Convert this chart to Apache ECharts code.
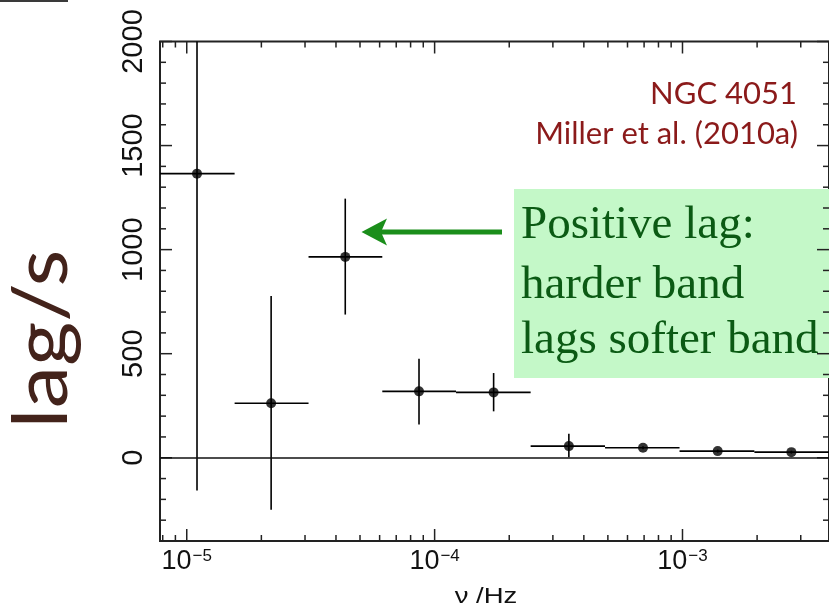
<!DOCTYPE html>
<html>
<head>
<meta charset="utf-8">
<script src="https://cdn.jsdelivr.net/npm/echarts@6/dist/echarts.min.js"></script>
<style>
  html, body { margin: 0; padding: 0; background: #ffffff; }
  #chart { width: 829px; height: 610px; }
</style>
</head>
<body>
<div id="chart"></div>
<script>
// Frequency-resolved time lag of NGC 4051 (hard band relative to soft band)

// Bin centre frequencies (Hz) and the lag measured in each bin (s)
const freq    = [1.10e-5, 2.19e-5, 4.36e-5, 8.65e-5, 1.73e-4, 3.48e-4, 6.93e-4, 1.387e-3, 2.75e-3];
const lag     = [1365, 262, 965, 319, 314, 56, 48, 32, 27];
// Lower / upper ends of the lag error bars (s)
const lagLow  = [-157, -250, 688, 160, 223, 3, 41, 25, 20];
const lagHigh = [2890, 777, 1245, 476, 407, 115, 55, 39, 34];
// Frequency bin edges (Hz)
const binLow  = [7.8e-6, 1.56e-5, 3.1e-5, 6.15e-5, 1.22e-4, 2.44e-4, 4.87e-4, 9.73e-4, 1.95e-3];
const binHigh = [1.56e-5, 3.1e-5, 6.15e-5, 1.22e-4, 2.44e-4, 4.87e-4, 9.73e-4, 1.95e-3, 3.9e-3];

// Axis ranges
const X_MIN = 7.8e-6, X_MAX = 3.9e-3;
const Y_MIN = -400, Y_MAX = 2000;

// Tick positions on the frame
const xMajorTicks = [1e-5, 1e-4, 1e-3];
const xMinorTicks = [8e-6, 9e-6,
  2e-5, 3e-5, 4e-5, 5e-5, 6e-5, 7e-5, 8e-5, 9e-5,
  2e-4, 3e-4, 4e-4, 5e-4, 6e-4, 7e-4, 8e-4, 9e-4,
  2e-3, 3e-3];
const yMajorTicks = [0, 500, 1000, 1500, 2000];
const yMinorTicks = [-300, -200, -100, 100, 200, 300, 400, 600, 700, 800, 900,
  1100, 1200, 1300, 1400, 1600, 1700, 1800, 1900];

const FRAME = '#222222';
const LABEL_FONT = 'Liberation Sans';

const chart = echarts.init(document.getElementById('chart'), null, { renderer: 'canvas' });

// Tick marks drawn inward on all four sides of the frame
const tickData = [];
xMajorTicks.forEach(v => tickData.push([v, Y_MIN, 0, 1]));
xMinorTicks.forEach(v => tickData.push([v, Y_MIN, 0, 0]));
yMajorTicks.forEach(v => tickData.push([X_MIN, v, 1, 1]));
yMinorTicks.forEach(v => tickData.push([X_MIN, v, 1, 0]));

function renderTick(params, api) {
  const cs = params.coordSys;
  const len = api.value(3) ? 12 : 6;
  const style = { stroke: FRAME, lineWidth: 1.5 };
  const top = cs.y, bottom = cs.y + cs.height, left = cs.x, right = cs.x + cs.width;
  if (api.value(2) === 0) {
    const x = api.coord([api.value(0), Y_MIN])[0];
    return { type: 'group', children: [
      { type: 'line', shape: { x1: x, y1: bottom, x2: x, y2: bottom - len }, style },
      { type: 'line', shape: { x1: x, y1: top, x2: x, y2: top + len }, style }
    ] };
  }
  const y = api.coord([X_MIN, api.value(1)])[1];
  return { type: 'group', children: [
    { type: 'line', shape: { x1: left, y1: y, x2: left + len, y2: y }, style },
    { type: 'line', shape: { x1: right, y1: y, x2: right - len, y2: y }, style }
  ] };
}

// Horizontal (bin width) and vertical (lag uncertainty) error bars
const errData = freq.map((f, i) => [f, lag[i], binLow[i], binHigh[i], lagLow[i], lagHigh[i]]);

function renderError(params, api) {
  const cs = params.coordSys;
  const clampX = v => Math.max(cs.x, Math.min(cs.x + cs.width, v));
  const clampY = v => Math.max(cs.y, Math.min(cs.y + cs.height, v));
  const c = api.coord([api.value(0), api.value(1)]);
  const xl = clampX(api.coord([api.value(2), api.value(1)])[0]);
  const xr = clampX(api.coord([api.value(3), api.value(1)])[0]);
  const yb = clampY(api.coord([api.value(0), api.value(4)])[1]);
  const yt = clampY(api.coord([api.value(0), api.value(5)])[1]);
  const style = { stroke: '#000000', lineWidth: 1.6 };
  return { type: 'group', children: [
    { type: 'line', shape: { x1: xl, y1: c[1], x2: xr, y2: c[1] }, style },
    { type: 'line', shape: { x1: c[0], y1: yb, x2: c[0], y2: yt }, style }
  ] };
}

function logLabel(v) {
  const lg = Math.log10(v);
  const e = Math.round(lg);
  if (Math.abs(lg - e) > 1e-6) return '';
  return '{b|10}{s|\u2212' + Math.abs(e) + '}';
}

const option = {
  animation: false,
  backgroundColor: '#ffffff',
  grid: {
    left: 160, right: -3, top: 41.5, bottom: 69,
    show: true, borderColor: FRAME, borderWidth: 2, backgroundColor: 'transparent'
  },
  xAxis: {
    type: 'log', logBase: 10, min: X_MIN, max: X_MAX,
    axisLine: { show: false },
    axisTick: { show: false },
    splitLine: { show: false },
    axisLabel: {
      margin: 7,
      formatter: logLabel,
      showMinLabel: false, showMaxLabel: false,
      rich: {
        b: { fontSize: 27, fontFamily: LABEL_FONT, color: '#111111' },
        s: { fontSize: 17, fontFamily: LABEL_FONT, color: '#111111', verticalAlign: 'top', padding: [0, 0, 0, 1] }
      }
    }
  },
  yAxis: {
    type: 'value', min: Y_MIN, max: Y_MAX, interval: 100,
    axisLine: { show: false },
    axisTick: { show: false },
    splitLine: { show: false },
    axisLabel: {
      rotate: 90, margin: 12,
      fontSize: 29, fontFamily: LABEL_FONT, color: '#111111',
      formatter: v => (v % 500 === 0 ? String(v) : '')
    }
  },
  series: [
    {
      type: 'custom', name: 'ticks', renderItem: renderTick, data: tickData,
      silent: true, z: 3
    },
    {
      type: 'custom', name: 'errors', renderItem: renderError, data: errData,
      silent: true, z: 4
    },
    {
      type: 'scatter', name: 'lag',
      data: freq.map((f, i) => [f, lag[i]]),
      symbol: 'circle', symbolSize: 10,
      itemStyle: { color: '#000000' },
      z: 5,
      markLine: {
        silent: true, symbol: 'none',
        label: { show: false },
        lineStyle: { color: '#111111', width: 1.6, type: 'solid' },
        data: [{ yAxis: 0 }]
      }
    }
  ],
  graphic: [
    { type: 'rect', shape: { x: 0, y: 0, width: 68, height: 2 }, style: { fill: '#3a3a3a' } },
    { type: 'rect', shape: { x: 514, y: 189, width: 330, height: 189 }, style: { fill: '#c4f8c8' } },
    { type: 'text', x: 521, y: 226, style: { text: 'Positive lag:', font: '47px "Liberation Serif", "Times New Roman", serif', fill: '#0b5a14', verticalAlign: 'middle', align: 'left' } },
    { type: 'text', x: 521, y: 286, style: { text: 'harder band', font: '47px "Liberation Serif", "Times New Roman", serif', fill: '#0b5a14', verticalAlign: 'middle', align: 'left' } },
    { type: 'text', x: 521, y: 341, style: { text: 'lags softer band', font: '47px "Liberation Serif", "Times New Roman", serif', fill: '#0b5a14', verticalAlign: 'middle', align: 'left' } },
    { type: 'text', x: 797, y: 94, style: { text: 'NGC 4051', font: '31px Lato, "Open Sans", sans-serif', fill: '#8b1a1a', verticalAlign: 'middle', align: 'right' } },
    { type: 'text', x: 798, y: 134, style: { text: 'Miller et al. (2010a)', font: '31px Lato, "Open Sans", sans-serif', fill: '#8b1a1a', verticalAlign: 'middle', align: 'right' } },
    { type: 'text', x: 42, y: 339, rotation: Math.PI / 2, scaleX: 1.12, style: { text: 'lag/s', font: '76px Lato, "Open Sans", sans-serif', fill: '#43231b', verticalAlign: 'middle', align: 'center' } },
    { type: 'text', x: 486, y: 597, scaleX: 1.25, style: { text: '\u03bd /Hz', font: '22px "Liberation Sans", Arial, sans-serif', fill: '#111111', verticalAlign: 'middle', align: 'center' } },
    // arrow pointing at the third bin
    { type: 'line', shape: { x1: 502, y1: 232, x2: 380, y2: 232 }, style: { stroke: '#1b8e1b', lineWidth: 5 } },
    { type: 'polygon', shape: { points: [[361.5, 232], [387, 218.5], [381, 232], [387, 245.5]] }, style: { fill: '#1b8e1b' } }
  ]
};

chart.setOption(option);
</script>
</body>
</html>
